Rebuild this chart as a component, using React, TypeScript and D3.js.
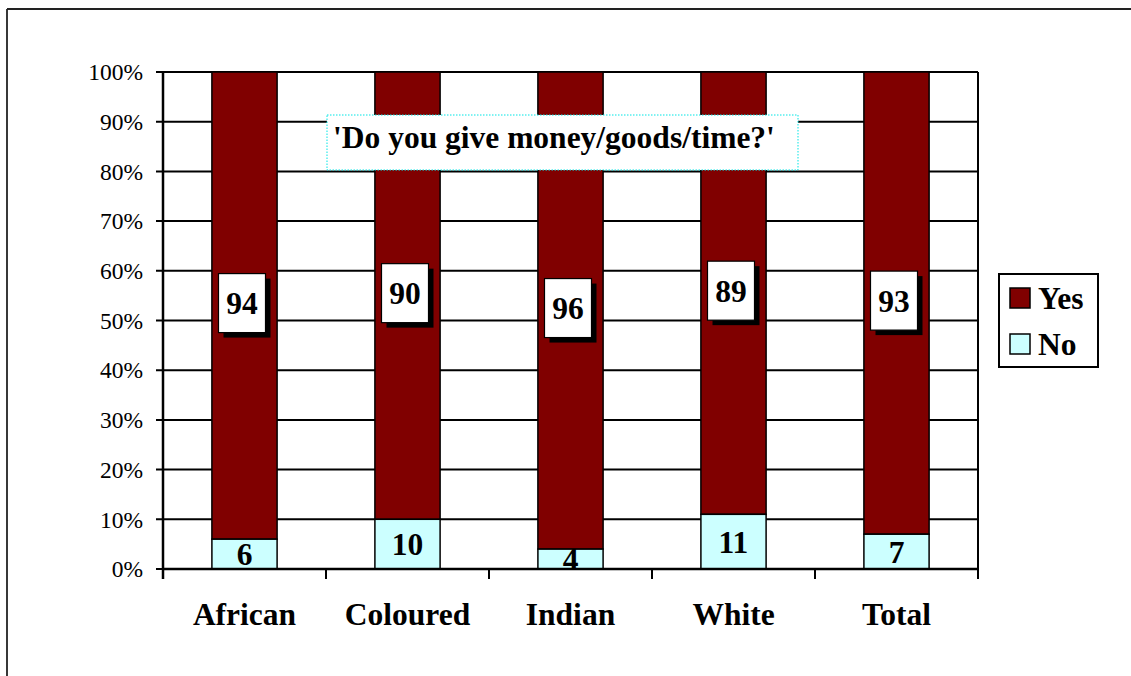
import React from "react";
import * as d3 from "d3";

const categories = ["African", "Coloured", "Indian", "White", "Total"];
const yesValues = [94, 90, 96, 89, 93];
const noValues = [6, 10, 4, 11, 7];
const yTicks = [0, 10, 20, 30, 40, 50, 60, 70, 80, 90, 100];
const seriesNames = ["Yes", "No"];
const title = "'Do you give money/goods/time?'";

const W = 1131;
const H = 676;
const M = { left: 163, right: 978, top: 72, bottom: 569 };
const YES_COLOR = "#800000";
const NO_COLOR = "#CCFFFF";
const FONT = "'Liberation Serif', 'Times New Roman', serif";
const BIG = 31.5;

export default function App() {
  const x = d3.scaleBand<string>().domain(categories).range([M.left, M.right]).paddingInner(0.6).paddingOuter(0.3);
  const xb = d3.scaleBand<string>().domain(categories).range([M.left, M.right]);
  const y = d3.scaleLinear().domain([0, 100]).range([M.bottom, M.top]);
  const bw = x.bandwidth();

  const boxW = 47;
  const boxH = 59;
  const sh = 5;

  return (
    <svg width={W} height={H} style={{ position: "absolute", left: 0, top: 0, background: "#fff" }} fontFamily={FONT}>
      <rect x={0} y={0} width={W} height={H} fill="#fff" />
      {/* outer frame */}
      <line x1={7} y1={9} x2={W} y2={9} stroke="#222" strokeWidth={1.8} />
      <line x1={7} y1={9} x2={7} y2={H} stroke="#222" strokeWidth={1.8} />

      {/* gridlines */}
      {yTicks.map((t) => (
        <line key={"g" + t} x1={M.left - 7} x2={M.right} y1={y(t)} y2={y(t)} stroke="#000" strokeWidth={2} />
      ))}
      {/* right border */}
      <line x1={M.right} x2={M.right} y1={M.top} y2={M.bottom} stroke="#000" strokeWidth={2} />

      {/* y tick labels */}
      {yTicks.map((t) => (
        <text key={"yl" + t} x={143} y={y(t)} dy="0.35em" textAnchor="end" fontSize={23.5} fill="#000">
          {t + "%"}
        </text>
      ))}

      {/* bars */}
      {categories.map((c, i) => {
        const x0 = x(c)!;
        return (
          <g key={"b" + c}>
            <rect x={x0} y={y(noValues[i] + yesValues[i])} width={bw} height={y(noValues[i]) - y(noValues[i] + yesValues[i])} fill={YES_COLOR} stroke="#000" strokeWidth={1.5} />
            <rect x={x0} y={y(noValues[i])} width={bw} height={y(0) - y(noValues[i])} fill={NO_COLOR} stroke="#000" strokeWidth={1.5} />
          </g>
        );
      })}

      {/* axes */}
      <line x1={M.left} x2={M.left} y1={M.top} y2={M.bottom + 10} stroke="#000" strokeWidth={2.5} />
      <line x1={M.left} x2={M.right} y1={M.bottom} y2={M.bottom} stroke="#000" strokeWidth={2.5} />
      {categories.map((c) => (
        <line key={"xt" + c} x1={xb(c)! + xb.bandwidth()} x2={xb(c)! + xb.bandwidth()} y1={M.bottom} y2={M.bottom + 10} stroke="#000" strokeWidth={2} />
      ))}

      {/* No labels */}
      {categories.map((c, i) => {
        const cx = x(c)! + bw / 2;
        const cy = (y(0) + y(noValues[i])) / 2;
        return (
          <text key={"nl" + c} x={cx} y={cy + 11} textAnchor="middle" fontSize={BIG} fontWeight="bold" fill="#000">
            {noValues[i]}
          </text>
        );
      })}

      {/* Yes labels */}
      {categories.map((c, i) => {
        const cx = x(c)! + bw / 2;
        const cy = (y(noValues[i]) + y(noValues[i] + yesValues[i])) / 2;
        const bx = cx - (boxW + sh) / 2;
        const by = cy - (boxH + sh) / 2;
        return (
          <g key={"yl" + c}>
            <rect x={bx + sh} y={by + sh} width={boxW} height={boxH} fill="#000" />
            <rect x={bx} y={by} width={boxW} height={boxH} fill="#fff" stroke="#000" strokeWidth={1.2} />
            <text x={bx + boxW / 2} y={by + boxH / 2 + 11} textAnchor="middle" fontSize={BIG} fontWeight="bold" fill="#000">
              {yesValues[i]}
            </text>
          </g>
        );
      })}

      {/* x labels */}
      {categories.map((c) => (
        <text key={"xl" + c} x={xb(c)! + xb.bandwidth() / 2} y={625} textAnchor="middle" fontSize={BIG} fontWeight="bold" fill="#000">
          {c}
        </text>
      ))}

      {/* title box */}
      <rect x={327} y={115} width={471} height={55} fill="#fff" stroke="#00E5E5" strokeWidth={1} strokeDasharray="1.5,1.5" />
      <text x={333} y={148} fontSize={BIG} fontWeight="bold" fill="#000">
        {title}
      </text>

      {/* legend */}
      <rect x={999} y={274} width={99} height={93} fill="#fff" stroke="#000" strokeWidth={2} />
      {seriesNames.map((s, i) => (
        <g key={"lg" + s}>
          <rect x={1010} y={288 + i * 46} width={20} height={20} fill={i === 0 ? YES_COLOR : NO_COLOR} stroke="#000" strokeWidth={1.5} />
          <text x={1038} y={309 + i * 46} fontSize={BIG} fontWeight="bold" fill="#000">
            {s}
          </text>
        </g>
      ))}
    </svg>
  );
}
